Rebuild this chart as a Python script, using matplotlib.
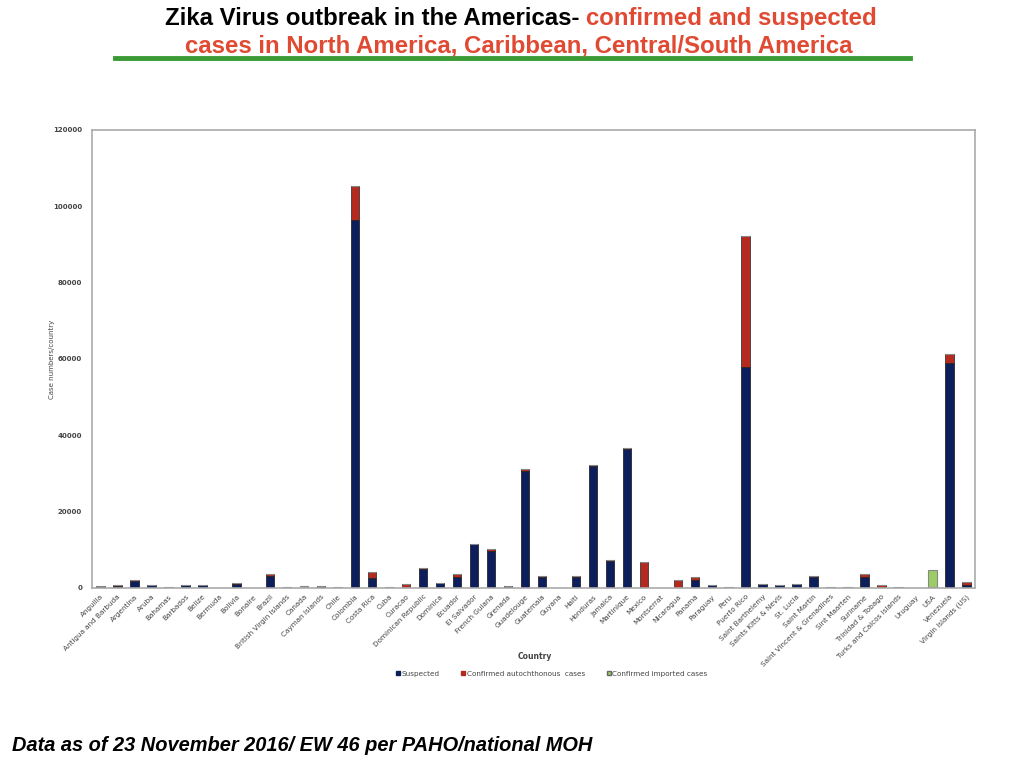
import numpy as np
import matplotlib.pyplot as plt
from matplotlib.lines import Line2D

countries = ["Anguilla", "Antigua and Barbuda", "Argentina", "Aruba", "Bahamas", "Barbados",
             "Belize", "Bermuda", "Bolivia", "Bonaire", "Brazil", "British Virgin Islands",
             "Canada", "Cayman Islands", "Chile", "Colombia", "Costa Rica", "Cuba", "Curacao",
             "Dominican Republic", "Dominica", "Ecuador", "El Salvador", "French Guiana",
             "Grenada", "Guadelouge", "Guatemala", "Guyana", "Haiti", "Honduras", "Jamaica",
             "Martinique", "Mexico", "Montserrat", "Nicaragua", "Panama", "Paraguay", "Peru",
             "Puerto Rico", "Saint Barthelemy", "Saints Kitts & Nevis", "St. Lucia",
             "Saint Martin", "Saint Vincent & Grenadines", "Sint Maarten", "Suriname",
             "Trinidad & Tobago", "Turks and Caicos Islands", "Uruguay", "USA", "Venezuela",
             "Virgin Islands (US)"]

suspected = [350, 600, 1900, 850, 250, 700, 850, 0, 1150, 0, 3200, 300,
             0, 450, 0, 96400, 2600, 150, 0, 5000, 1300, 2900, 11400, 9700,
             400, 30700, 2800, 0, 3000, 32000, 7100, 36500, 0, 0, 0, 2200, 750, 250,
             58000, 1000, 800, 1000, 3000, 300, 300, 2900, 100, 250, 0, 0, 59000, 900]

autochthonous = [50, 50, 250, 50, 50, 200, 50, 0, 100, 0, 500, 50,
                 0, 100, 0, 8900, 1600, 50, 950, 300, 50, 800, 100, 600,
                 100, 500, 400, 0, 150, 200, 200, 250, 6700, 0, 2050, 600, 50, 50,
                 34200, 50, 50, 50, 150, 50, 50, 750, 700, 50, 0, 180, 2400, 700]

imported = [0, 0, 0, 0, 0, 0, 0, 120, 0, 100, 0, 0,
            450, 0, 150, 0, 0, 0, 0, 0, 0, 0, 0, 0,
            0, 0, 0, 100, 0, 0, 0, 0, 0, 100, 0, 0, 0, 0,
            0, 0, 0, 0, 0, 0, 0, 0, 0, 0, 80, 4600, 0, 0]

navy = "#0c1f5c"
red = "#b42a1f"
green = "#9ccc66"

fig = plt.figure(figsize=(10.24, 7.68), dpi=100)
ax = fig.add_axes([0.0898, 0.2344, 0.8623, 0.5964])

x = np.arange(len(countries))
s = np.array(suspected)
a = np.array(autochthonous)
im = np.array(imported)
w = 0.5
ax.bar(x, s, w, color=navy, edgecolor="#111111", linewidth=0.5)
ax.bar(x, a, w, bottom=s, color=red, edgecolor="#222222", linewidth=0.5)
ax.bar(x, im, w, bottom=s + a, color=green, edgecolor="#888888", linewidth=0.8)

ax.set_xlim(-0.5, len(countries) - 0.5)
ax.set_ylim(0, 120000)
ax.set_yticks(np.arange(0, 120001, 20000))
ax.set_xticks(x)
ax.set_xticklabels(countries, rotation=45, ha="right", rotation_mode="anchor",
                   fontsize=5.2, color="#444444")
for lab in ax.get_yticklabels():
    lab.set_fontsize(5)
    lab.set_color("#444444")
    lab.set_fontweight("bold")
ax.tick_params(length=0, pad=7)
ax.tick_params(axis="x", pad=4)
for sp in ax.spines.values():
    sp.set_color("#aaaaaa")
    sp.set_linewidth(1.2)

ax.set_ylabel("Case numbers/country", fontsize=5, color="#444444")
ax.yaxis.set_label_coords(-0.042, 0.5)
fig.text(0.522, 0.142, "Country", fontsize=5.5, color="#444444", ha="center",
         fontweight="bold")

handles = [Line2D([], [], marker="s", ls="", color=navy, markersize=3.5),
           Line2D([], [], marker="s", ls="", color=red, markersize=3.5),
           Line2D([], [], marker="s", ls="", color=green, markeredgecolor="#666666",
                  markersize=3.5)]
fig.legend(handles, ["Suspected", "Confirmed autochthonous  cases", "Confirmed imported cases"],
           loc="center", bbox_to_anchor=(0.5386, 0.123), ncol=3, frameon=False,
           fontsize=5.2, handlelength=0.6, handletextpad=0.2, columnspacing=3,
           labelcolor="#444444")

title_font = ["Liberation Sans Narrow", "Liberation Sans", "DejaVu Sans"]
t1 = fig.text(0.161, 0.991, "Zika Virus outbreak in the Americas- ", fontsize=17.3,
              fontweight="bold", ha="left", va="top", family=title_font, color="black")
fig.canvas.draw()
bb = t1.get_window_extent()
fig.text(bb.x1 / fig.bbox.width, 0.991, "confirmed and suspected", fontsize=17.3,
         fontweight="bold", ha="left", va="top", family=title_font, color="#e04a33")
fig.text(0.507, 0.955, "cases in North America, Caribbean, Central/South America",
         fontsize=17.3, fontweight="bold", ha="center", va="top", family=title_font,
         color="#e04a33")
fig.add_artist(Line2D([0.112, 0.889], [0.924, 0.924], color="#3a9a34", linewidth=3.5))

fig.text(0.012, 0.017, "Data as of 23 November 2016/ EW 46 per PAHO/national MOH",
         fontsize=14.4, fontweight="bold", style="italic", ha="left", va="bottom",
         family=["Liberation Sans", "DejaVu Sans"])

fig.savefig("out.png", dpi=100)
